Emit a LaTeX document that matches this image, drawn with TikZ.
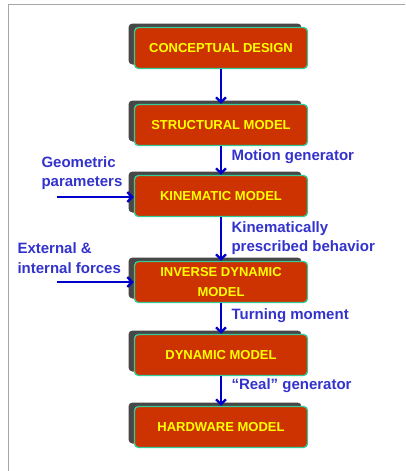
\documentclass[tikz,border=0pt]{standalone}
\usepackage{fontspec}
\setmainfont{Liberation Sans}
\usepackage{xcolor}
\usepackage{tikz}
\usetikzlibrary{arrows.meta}
\usetikzlibrary{shadows}
\definecolor{boxred}{RGB}{204,51,0}
\definecolor{boxedge}{RGB}{51,204,153}
\definecolor{boxtext}{RGB}{255,255,0}
\definecolor{flowblue}{RGB}{0,0,204}
\definecolor{noteblue}{RGB}{51,51,204}
\tikzset{
	modelbox/.style={draw=boxedge,line width=1.3pt,fill=boxred,rounded corners=4pt,
		minimum width=173pt,minimum height=41pt,align=center,
		font=\fontsize{13}{19.5}\selectfont\bfseries,text=boxtext,
		general shadow={fill=black!72,shadow xshift=-6pt,shadow yshift=4pt}},
	note/.style={anchor=west,align=left,text=noteblue,
		font=\fontsize{15}{19.5}\selectfont\bfseries},
	flow/.style={draw=flowblue,line width=2.2pt,-{Straight Barb[length=5pt,width=10pt,line width=2.2pt]}}
}

\begin{document}
\begin{tikzpicture}[x=1pt,y=1pt]
	\useasboundingbox (0,0) rectangle (405,-471);
	\draw[black!35,line width=1pt] (8,-471)--(8,-4)--(405,-4);

	% the chain of models
	\node[modelbox] (concept) at (221,-48) {CONCEPTUAL DESIGN};
	\node[modelbox] (struct) at (221,-125) {STRUCTURAL MODEL};
	\node[modelbox] (kinem) at (221,-196) {KINEMATIC MODEL};
	\node[modelbox] (invdyn) at (221,-282) {INVERSE DYNAMIC\\MODEL};
	\node[modelbox] (dyn) at (221,-355) {DYNAMIC MODEL};
	\node[modelbox] (hw) at (221,-427) {HARDWARE MODEL};

	\draw[flow] (concept.south) -- (struct.north);
	\draw[flow] (struct.south) -- (kinem.north);
	\draw[flow] (kinem.south) -- (invdyn.north);
	\draw[flow] (invdyn.south) -- (dyn.north);
	\draw[flow] (dyn.south) -- (hw.north);

	\node[note] (motion) at (228,-157) {Motion generator};
	\node[note] (presc) at (228,-238) {Kinematically\\prescribed behavior};
	\node[note] (turn) at (228,-316) {Turning moment};
	\node[note] (real) at (228,-386) {``Real'' generator};

	% inputs from the left
	\node[note] (geom) at (38,-173) {Geometric\\parameters};
	\node[note] (forces) at (14,-258) {External \&\\internal forces};
	\coordinate (geomin) at (57,-197);
	\coordinate (forcesin) at (57,-282);
	\draw[flow] (geomin) -- (geomin -| kinem.west);
	\draw[flow] (forcesin) -- (forcesin -| invdyn.west);
\end{tikzpicture}
\end{document}
